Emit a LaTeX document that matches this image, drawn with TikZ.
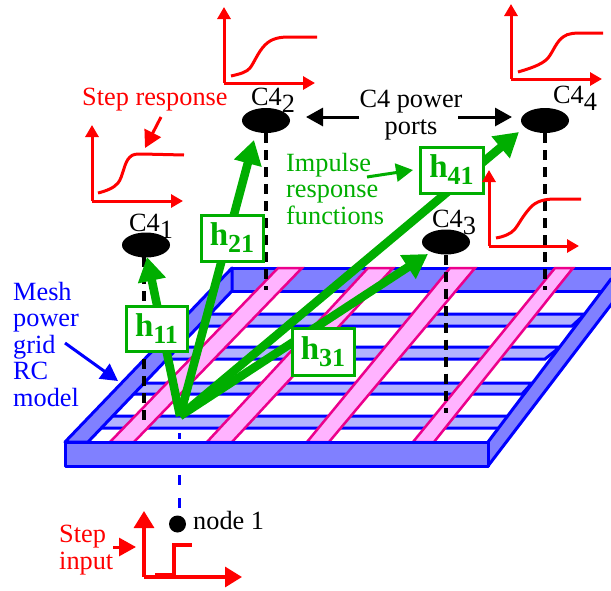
\documentclass[tikz,border=0pt]{standalone}
\usepackage{fontspec}
\setmainfont{Liberation Serif}
\usetikzlibrary{arrows.meta,shapes.geometric}
\definecolor{gr}{HTML}{00AE00}
\definecolor{wall}{HTML}{8080FF}
\definecolor{slat}{HTML}{B3B3FF}
\definecolor{pinkf}{HTML}{FFB3FF}
\newcommand{\sz}[1]{\fontsize{#1}{26.5}\selectfont}
\newcommand{\hlab}[2]{\sz{33}\bfseries h\raisebox{-7pt}{\sz{26}\bfseries #1#2}}
\newcommand{\cfour}[1]{C4\raisebox{-7pt}{#1}}
\tikzset{
  txt/.style={inner sep=0pt,font=\sz{26.3},align=left},
  ctxt/.style={txt,align=center},
  wallp/.style={fill=wall,draw=blue,line width=3pt,line join=round},
  slatp/.style={fill=slat,draw=blue,line width=3pt},
  stripe/.style={fill=pinkf,draw=magenta,line width=2.5pt,line join=miter},
  port/.style={ellipse,fill=black,minimum width=48pt,minimum height=25pt,inner sep=0pt},
  drop/.style={black,line width=3.2pt,dash pattern=on 10pt off 7pt},
  hbox/.style={draw=gr,fill=white,line width=3pt,text=gr,inner sep=0pt,anchor=center},
  garrow/.style={gr,line width=8.5pt,-{Triangle[length=24pt,width=27pt]}},
  axis/.style={red,line width=3pt,-{Triangle[length=12pt,width=13pt]}},
  axisl/.style={red,line width=3.2pt,-{Triangle[length=17pt,width=20pt]}},
  curve/.style={red,line width=3pt},
  pointer/.style={line width=3pt,-{Triangle[length=17pt,width=18pt]}},
}
\begin{document}
\begin{tikzpicture}[x=1pt,y=-1pt]
\useasboundingbox (0,0) rectangle (611,590);
% blue dashed line, inside the mesh and below it
\coordinate (b1) at (179,433);
\coordinate (b2) at (179,508);
\draw[blue,line width=3pt,dash pattern=on 6pt off 13pt on 10pt off 13pt on 10pt off 13pt on 10pt off 100pt] (b1) -- (b2);
% mesh: back wall
\fill[wall] (232,268) -- (620,268) -- (620,291) -- (232,291) -- cycle;
\draw[blue,line width=3pt] (620,268) -- (232,268);
\draw[blue,line width=3pt] (620,291) -- (232,291);
% slats
\draw[slatp] (210,314) -- (585,314) -- (572,326) -- (199,326);
\draw[slatp] (179,347) -- (560,347) -- (545,359) -- (167,359);
\draw[slatp] (144,383) -- (532,383) -- (522,394) -- (134,394);
\draw[slatp] (113,416) -- (513,416) -- (500,428) -- (101,428);
% left and right walls
\draw[wallp] (232,268) -- (232,291) -- (88,442) -- (65,442) -- cycle;
\draw[wallp] (488,442) -- (602,291) -- (611,279) -- (620,279) -- (620,293) -- (488,466) -- cycle;
% stripes
\draw[stripe] (110,442) -- (278,268) -- (302,268) -- (134,442) -- cycle;
\draw[stripe] (207,442) -- (368,268) -- (393,268) -- (232,442) -- cycle;
\draw[stripe] (307,442) -- (450,268) -- (475,268) -- (329,442) -- cycle;
\draw[stripe] (413,442) -- (555,268) -- (573,268) -- (434,442) -- cycle;
% front wall
\draw[wallp] (65,442) rectangle (488,466);
% ports
\node[port] (c1) at (146,245) {};
\node[port] (c2) at (266,120.5) {};
\node[port] (c3) at (446,242) {};
\node[port] (c4) at (545,120.5) {};
\node[txt,anchor=base west] at (129,231) {\cfour{1}};
\node[txt,anchor=base west] at (251,105) {\cfour{2}};
\node[txt,anchor=base west] at (432,227) {\cfour{3}};
\node[txt,anchor=base west] at (553,103) {\cfour{4}};
% drops
\coordinate (d0) at (144,257);
\coordinate (d1) at (144,420);
\coordinate (d2) at (266,290);
\coordinate (d3) at (446,413);
\coordinate (d4) at (545,290);
\draw[drop] (d0) -- (d1);
\draw[drop] (c2.south) -- (d2);
\draw[drop] (c3.south) -- (d3);
\draw[drop] (c4.south) -- (d4);
% green arrows
\coordinate (src) at (180,416);
\coordinate (t1) at (147,257);
\coordinate (t2) at (254,140);
\coordinate (t3) at (428,254);
\coordinate (t4) at (519,132);
\draw[garrow] (src) -- (t1);
\draw[garrow] (src) -- (t2);
\draw[garrow] (src) -- (t3);
\draw[garrow] (src) -- (t4);
\node[hbox,minimum width=61pt,minimum height=45pt] (h1) at (156.5,328.5) {\hlab{1}{1}};
\node[hbox,minimum width=62pt,minimum height=46pt] (h2) at (232,238) {\hlab{2}{1}};
\node[hbox,minimum width=62pt,minimum height=47pt] (h3) at (323,351.5) {\hlab{3}{1}};
\node[hbox,minimum width=63pt,minimum height=46pt] (h4) at (451.5,170) {\hlab{4}{1}};
% plots
\draw[axis] (224,83) -- (224,7);
\draw[axis] (224,83) -- (315,83);
\draw[curve] (231,76) .. controls (240,74) and (247,72) .. (250,68) .. controls (254,63) and (258,52) .. (265,45) .. controls (272,38) and (280,37) .. (290,37) -- (317,37);
\draw[axis] (511,79) -- (511,4);
\draw[axis] (511,79) -- (602,79);
\draw[curve] (518,72) .. controls (528,69) and (542,65) .. (548,58) .. controls (553,52) and (556,42) .. (563,37) .. controls (568,33) and (575,33) .. (585,33) -- (603,33);
\draw[axis] (489,246) -- (489,170);
\draw[axis] (489,246) -- (579,246);
\draw[curve] (496,238) .. controls (503,237) and (511,234) .. (515,229) .. controls (519,224) and (522,217) .. (530,208) .. controls (536,201) and (545,199) .. (555,199) -- (581,199);
\draw[axis] (92,201) -- (92,125);
\draw[axis] (92,201) -- (183,201);
\draw[curve] (98,193) .. controls (106,191) and (114,188) .. (118,183) .. controls (123,177) and (124,162) .. (130,157) .. controls (133,154) and (136,154) .. (142,154) -- (184,155);
% step input
\draw[axisl] (144,577) -- (144,511);
\draw[axisl] (144,577) -- (242,577);
\draw[red,line width=3.2pt] (155,575) -- (174,575) -- (174,545) -- (192,545);
% node 1
\node[circle,fill=black,minimum size=17pt,inner sep=0pt] (n1) at (177.5,524) {};
\node[txt,anchor=base west] at (193,529) {node 1};
% labels
\node[txt,text=red,anchor=base west] (sr) at (82,105) {Step response};
\node[txt,text=red,anchor=north west] (si2) at (59,525) {Step\\input};
\node[txt,text=blue,anchor=north west] (mg) at (13,282) {Mesh\\power\\grid\\RC\\model};
\node[ctxt,text=black,anchor=north] (pp) at (411,90) {C4 power\\ports};
\node[txt,text=gr,anchor=north west] (ir) at (286,153) {Impulse\\response\\functions};
% pointers
\coordinate (a1s) at (161,117); \coordinate (a1e) at (145,148);
\draw[pointer,red] (a1s) -- (a1e);
\coordinate (a2s) at (113,547); \coordinate (a2e) at (136,547);
\draw[pointer,red] (a2s) -- (a2e);
\coordinate (a3s) at (65,343); \coordinate (a3e) at (118,381);
\draw[pointer,blue] (a3s) -- (a3e);
\coordinate (a4s) at (359,117); \coordinate (a4e) at (306,117);
\draw[pointer,black] (a4s) -- (a4e);
\coordinate (a5s) at (458,117); \coordinate (a5e) at (512,117);
\draw[pointer,black] (a5s) -- (a5e);
\coordinate (a6s) at (367,177); \coordinate (a6e) at (413,170);
\draw[pointer,gr] (a6s) -- (a6e);
\end{tikzpicture}
\end{document}
